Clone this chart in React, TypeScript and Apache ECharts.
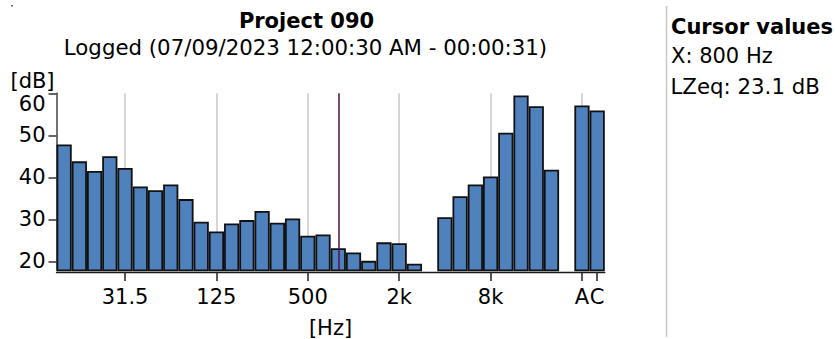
import React, { useEffect, useRef } from 'react';
import * as echarts from 'echarts';

const bands = ['12.5', '16', '20', '25', '31.5', '40', '50', '63', '80', '100', '125', '160', '200', '250', '315', '400', '500', '630', '800', '1k', '1.25k', '1.6k', '2k', '2.5k', '3.15k', '4k', '5k', '6.3k', '8k', '10k', '12.5k', '16k', '20k', '', 'A', 'C'];
const levels = [47.8, 43.8, 41.5, 45.0, 42.2, 37.8, 36.9, 38.3, 34.8, 29.4, 27.1, 29.0, 29.8, 32.0, 29.2, 30.2, 26.1, 26.4, 23.1, 22.1, 20.1, 24.5, 24.3, 19.4, null, 30.5, 35.5, 38.3, 40.2, 50.6, 59.5, 56.9, 41.8, null, 57.1, 55.9];
const tickLabels = ['31.5', '125', '500', '2k', '8k', 'A', 'C'];
const gridBands = ['31.5', '125', '500', '2k', '8k', 'A'];
const cursorBand = '800';
const yTicks = [20, 30, 40, 50, 60];
const yMin = 17.85;
const yMax = 60;
const titleText = 'Project 090';
const subtitleText = 'Logged (07/09/2023 12:00:30 AM - 00:00:31)';
const yUnit = '[dB]';
const xUnit = '[Hz]';
const cursorTitle = 'Cursor values';
const cursorXText = 'X: 800 Hz';
const cursorYText = 'LZeq: 23.1 dB';

const FONT = 'DejaVu Sans';

export default function App() {
  const ref = useRef<HTMLDivElement>(null);
  useEffect(() => {
    document.body.style.margin = '0';
    const chart = echarts.init(ref.current!, null, { renderer: 'svg' });
    const showTick = (_i: number, v: string) => tickLabels.includes(v);
    chart.setOption({
      animation: false,
      textStyle: { fontFamily: FONT },
      grid: { left: 56.5, top: 93.3, width: 548.3, height: 177 },
      xAxis: {
        type: 'category',
        data: bands,
        boundaryGap: true,
        offset: 1.7,
        z: 3,
        axisLine: { show: true, lineStyle: { color: '#1a1a1a', width: 1.3 } },
        axisTick: { show: true, alignWithLabel: true, length: 9, interval: showTick, lineStyle: { color: '#222', width: 1.5 } },
        axisLabel: { show: true, interval: showTick, margin: 14, fontSize: 21, color: '#000', fontFamily: FONT },
        splitLine: { show: false },
      },
      yAxis: {
        type: 'value',
        min: yMin,
        max: yMax,
        axisLine: { show: true, lineStyle: { color: '#444', width: 1.5 } },
        axisTick: { show: true, length: 8, customValues: yTicks, lineStyle: { color: '#333', width: 1.5 } },
        axisLabel: { show: true, customValues: yTicks, margin: 11, fontSize: 21, color: '#000', fontFamily: FONT, verticalAlignMaxLabel: 'top' },
        splitLine: { show: false },
      },
      series: [
        {
          type: 'bar',
          data: levels,
          barCategoryGap: 0,
          z: 2,
          itemStyle: { color: '#4f81bd', borderColor: '#111', borderWidth: 1.8 },
          emphasis: { disabled: true },
          markLine: {
            z: 1,
            silent: true,
            symbol: ['none', 'none'],
            label: { show: false },
            lineStyle: { color: '#c8c8c8', width: 1.5, type: 'solid' },
            emphasis: { disabled: true },
            data: gridBands.map((b) => ({ xAxis: b })),
          },
        },
        {
          type: 'line',
          data: [],
          z: 3,
          markLine: {
            z: 6,
            silent: true,
            symbol: ['none', 'none'],
            label: { show: false },
            lineStyle: { color: '#4d0f52', width: 1.5, type: 'solid' },
            emphasis: { disabled: true },
            data: [{ xAxis: cursorBand }],
          },
        },
      ],
      graphic: [
        { type: 'rect', shape: { x: 11, y: 5, width: 2, height: 1.5 }, style: { fill: '#666' } },
        { type: 'text', x: 306.5, y: 21, style: { text: titleText, fontFamily: FONT, fontWeight: 'bold', fontSize: 21, fill: '#000', align: 'center', verticalAlign: 'middle' } },
        { type: 'text', x: 305.5, y: 47, style: { text: subtitleText, fontFamily: FONT, fontSize: 21.3, fill: '#000', align: 'center', verticalAlign: 'middle' } },
        { type: 'text', x: 32.5, y: 81, style: { text: yUnit, fontFamily: FONT, fontSize: 21, fill: '#000', align: 'center', verticalAlign: 'middle' } },
        { type: 'text', x: 330.5, y: 327.5, style: { text: xUnit, fontFamily: FONT, fontSize: 21, fill: '#000', align: 'center', verticalAlign: 'middle' } },
        { type: 'line', shape: { x1: 666.5, y1: 6, x2: 666.5, y2: 337 }, style: { stroke: '#c8c8c8', lineWidth: 1.5 } },
        { type: 'text', x: 671, y: 26.5, style: { text: cursorTitle, fontFamily: FONT, fontWeight: 'bold', fontSize: 21, fill: '#000', align: 'left', verticalAlign: 'middle' } },
        { type: 'text', x: 671, y: 56, style: { text: cursorXText, fontFamily: FONT, fontSize: 21, fill: '#000', align: 'left', verticalAlign: 'middle' } },
        { type: 'text', x: 670.5, y: 86, style: { text: cursorYText, fontFamily: FONT, fontSize: 21.3, fill: '#000', align: 'left', verticalAlign: 'middle' } },
      ],
    });
    return () => chart.dispose();
  }, []);
  return <div ref={ref} style={{ position: 'absolute', left: 0, top: 0, width: 835, height: 339 }} />;
}
